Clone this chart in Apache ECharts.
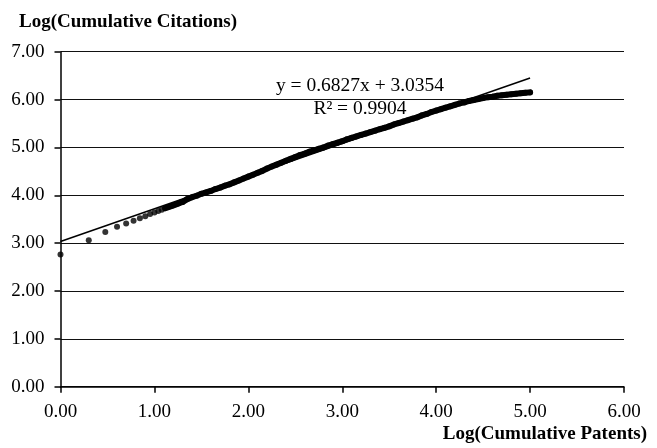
<!DOCTYPE html>
<html>
<head>
<meta charset="utf-8">
<script src="https://cdn.jsdelivr.net/npm/echarts@6/dist/echarts.min.js"></script>
<style>
  html, body { margin: 0; padding: 0; background: #fff; }
  #chart { width: 657px; height: 448px; }
</style>
</head>
<body>
<div id="chart"></div>
<script>
// log10 of cumulative patents (x) and cumulative citations (y)
const patentsLog = [
  0, 0.301, 0.477, 0.602, 0.699, 0.778, 0.845, 0.903, 0.954, 1.0,
  1.041, 1.079, 1.114, 1.146, 1.176, 1.204, 1.23, 1.255, 1.279, 1.301,
  1.35, 1.40, 1.45, 1.50, 1.55, 1.60, 1.65, 1.70, 1.75, 1.80,
  1.85, 1.90, 1.95, 2.00, 2.05, 2.10, 2.15, 2.20, 2.25, 2.30,
  2.35, 2.40, 2.45, 2.50, 2.55, 2.60, 2.65, 2.70, 2.75, 2.80,
  2.85, 2.90, 2.95, 3.00, 3.05, 3.10, 3.15, 3.20, 3.25, 3.30,
  3.35, 3.40, 3.45, 3.50, 3.55, 3.60, 3.65, 3.70, 3.75, 3.80,
  3.85, 3.90, 3.95, 4.00, 4.05, 4.10, 4.15, 4.20, 4.25, 4.30,
  4.35, 4.40, 4.45, 4.50, 4.55, 4.60, 4.65, 4.70, 4.75, 4.80,
  4.85, 4.90, 4.95, 5.00
];
const citationsLog = [
  2.76, 3.06, 3.23, 3.34, 3.41, 3.47, 3.52, 3.56, 3.61, 3.64,
  3.67, 3.70, 3.73, 3.75, 3.77, 3.79, 3.81, 3.83, 3.85, 3.86,
  3.92, 3.96, 3.99, 4.03, 4.06, 4.09, 4.13, 4.16, 4.20, 4.23,
  4.27, 4.31, 4.35, 4.39, 4.43, 4.47, 4.51, 4.56, 4.60, 4.64,
  4.68, 4.72, 4.76, 4.80, 4.84, 4.87, 4.91, 4.94, 4.97, 5.00,
  5.04, 5.07, 5.10, 5.13, 5.17, 5.20, 5.23, 5.26, 5.29, 5.32,
  5.35, 5.38, 5.41, 5.44, 5.48, 5.51, 5.54, 5.57, 5.60, 5.63,
  5.67, 5.70, 5.74, 5.77, 5.80, 5.83, 5.86, 5.89, 5.92, 5.94,
  5.97, 5.99, 6.01, 6.03, 6.05, 6.06, 6.08, 6.09, 6.10, 6.11,
  6.12, 6.13, 6.14, 6.15
];

// from this index on the points are so dense they merge into a band
const denseFrom = 12;

// linear trendline shown on the chart
const trendSlope = 0.6827;
const trendIntercept = 3.0354;
const trendX = [0, 5.0];
const xTicks = [0, 1, 2, 3, 4, 5, 6];
const yTicks = [0, 1, 2, 3, 4, 5, 6, 7];

const font = '"Liberation Serif", "Times New Roman", serif';

let chart = echarts.init(document.getElementById('chart'));

let points = patentsLog.map((x, i) => [x, citationsLog[i]]);

let option = {
  animation: false,
  backgroundColor: '#fff',
  grid: {
    left: 60.5,
    right: 33,
    top: 51.7,
    bottom: 61.3
  },
  xAxis: {
    type: 'value',
    min: xTicks[0],
    max: xTicks[xTicks.length - 1],
    interval: 1,
    axisLine: {lineStyle: {color: '#000', width: 1.5}},
    axisTick: {show: true, length: 6, lineStyle: {color: '#000', width: 1.5}},
    splitLine: {show: false},
    axisLabel: {
      color: '#000',
      fontFamily: font,
      fontSize: 19,
      margin: 16,
      formatter: v => v.toFixed(2)
    }
  },
  yAxis: {
    type: 'value',
    min: yTicks[0],
    max: yTicks[yTicks.length - 1],
    interval: 1,
    axisLine: {show: true, lineStyle: {color: '#000', width: 1.5}},
    axisTick: {show: true, length: 6, lineStyle: {color: '#000', width: 1.5}},
    splitLine: {show: true, lineStyle: {color: '#111', width: 1.2}},
    axisLabel: {
      color: '#000',
      fontFamily: font,
      fontSize: 19,
      margin: 16,
      formatter: v => v.toFixed(2)
    }
  },
  graphic: [
    {
      type: 'text', left: 19, top: 13,
      style: {text: 'Log(Cumulative Citations)', fill: '#000', font: 'bold 19px ' + font}
    },
    {
      type: 'text', right: 10, top: 425,
      style: {text: 'Log(Cumulative Patents)', fill: '#000', font: 'bold 19px ' + font}
    },
    {
      type: 'text', x: 360, y: 76,
      style: {
        text: 'y = ' + trendSlope + 'x + ' + trendIntercept,
        fill: '#000', font: '19.5px ' + font, align: 'center', verticalAlign: 'top'
      }
    },
    {
      type: 'text', x: 360, y: 99,
      style: {
        text: 'R² = 0.9904',
        fill: '#000', font: '19.5px ' + font, align: 'center', verticalAlign: 'top'
      }
    }
  ],
  series: [
    {
      name: 'citations',
      type: 'scatter',
      symbol: 'circle',
      symbolSize: 6,
      itemStyle: {color: '#000'},
      data: points,
      z: 3
    },
    {
      name: 'citations band',
      type: 'line',
      symbol: 'none',
      lineStyle: {color: '#000', width: 6, cap: 'round', join: 'round'},
      data: points.slice(denseFrom),
      z: 3
    },
    {
      name: 'trend',
      type: 'line',
      symbol: 'none',
      lineStyle: {color: '#000', width: 1.5},
      data: trendX.map(x => [x, trendSlope * x + trendIntercept]),
      z: 4
    }
  ]
};

chart.setOption(option);
</script>
</body>
</html>
